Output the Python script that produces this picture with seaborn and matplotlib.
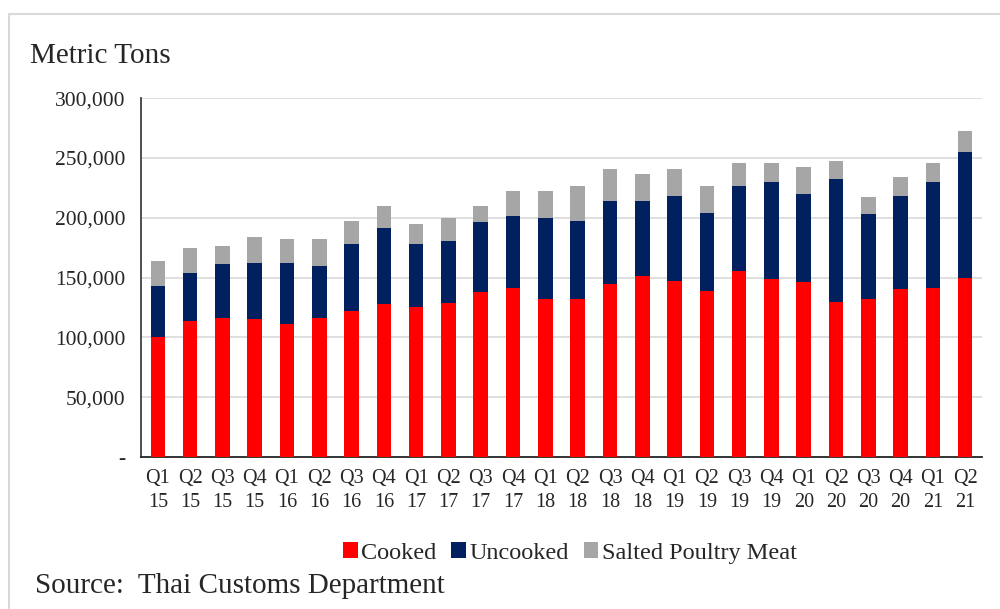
import matplotlib
matplotlib.use("Agg")
import matplotlib.pyplot as plt
from matplotlib.patches import Patch
from matplotlib.lines import Line2D
import pandas as pd
import seaborn as sns

quarters = [
    "Q1\n15", "Q2\n15", "Q3\n15", "Q4\n15",
    "Q1\n16", "Q2\n16", "Q3\n16", "Q4\n16",
    "Q1\n17", "Q2\n17", "Q3\n17", "Q4\n17",
    "Q1\n18", "Q2\n18", "Q3\n18", "Q4\n18",
    "Q1\n19", "Q2\n19", "Q3\n19", "Q4\n19",
    "Q1\n20", "Q2\n20", "Q3\n20", "Q4\n20",
    "Q1\n21", "Q2\n21",
]

cooked = [100000, 114000, 116500, 115000, 111000, 116500, 122000, 128000,
          125000, 129000, 137500, 141500, 132000, 132000, 144500, 151500,
          147000, 139000, 155500, 148500, 146000, 129500, 132000, 140000,
          141500, 150000]
uncooked = [43000, 40000, 44500, 47500, 51500, 43500, 56000, 63000,
            53000, 51500, 58500, 60000, 68000, 65500, 69500, 62500,
            71000, 65000, 71000, 81000, 73500, 102500, 71000, 78500,
            88000, 104500]
salted = [21000, 21000, 15500, 21000, 19500, 22000, 19500, 19000,
          16500, 19500, 14000, 21000, 22500, 29000, 26500, 22500,
          22500, 22500, 19500, 16500, 22500, 15500, 14000, 15500,
          16500, 18000]

series_names = ["Cooked", "Uncooked", "Salted Poultry Meat"]
series_colors = ["#FF0000", "#002060", "#A6A6A6"]

df = pd.DataFrame({
    "quarter": quarters,
    "cooked": cooked,
    "uncooked": uncooked,
    "salted": salted,
})
df["top_uncooked"] = df["cooked"] + df["uncooked"]
df["top_salted"] = df["top_uncooked"] + df["salted"]

sns.set_theme(style="white")
plt.rcParams["font.family"] = ["Liberation Serif", "DejaVu Serif"]

fig = plt.figure(figsize=(10, 6.09), dpi=100)
ax = fig.add_axes([0.141, 0.2496, 0.841, 0.5894])

# stacked bars: draw totals first, then overlay lower segments
for col, color in zip(["top_salted", "top_uncooked", "cooked"],
                      [series_colors[2], series_colors[1], series_colors[0]]):
    sns.barplot(data=df, x="quarter", y=col, color=color, saturation=1,
                width=0.45, errorbar=None, ax=ax, zorder=3,
                edgecolor="none", linewidth=0)

ax.set_xlim(-0.52, len(quarters) - 0.48)
ax.set_ylim(0, 300000)
ax.set_yticks(range(0, 300001, 50000))
ax.set_yticklabels(["-" if v == 0 else f"{v:,}" for v in range(0, 300001, 50000)])
ax.set_xlabel("")
ax.set_ylabel("")

ax.yaxis.grid(True, color="#D9D9D9", linewidth=1.2, zorder=0)
ax.set_axisbelow(True)
for side in ["top", "right"]:
    ax.spines[side].set_visible(False)
ax.spines["left"].set_color("#404040")
ax.spines["left"].set_linewidth(1.3)
ax.spines["bottom"].set_color("#262626")
ax.spines["bottom"].set_linewidth(1.3)

ax.tick_params(axis="y", length=0, pad=11, labelsize=15.5, labelcolor="#262626")
ax.tick_params(axis="x", length=0, pad=9, labelsize=14.5, labelcolor="#262626")
for lbl in ax.get_xticklabels():
    lbl.set_linespacing(1.3)

fig.text(0.03, 0.908, "Metric Tons", fontsize=21, color="#262626", va="center")
fig.text(0.035, 0.037, "Source:  Thai Customs Department", fontsize=21,
         color="#262626", va="center")

handles = [Patch(facecolor=c, edgecolor="none") for c in series_colors]
fig.legend(handles, series_names, loc="center", bbox_to_anchor=(0.57, 0.092),
           ncol=3, frameon=False, fontsize=17.5, handlelength=0.6,
           handleheight=0.6, handletextpad=0.15, columnspacing=0.6,
           labelcolor="#262626")

# light frame lines along the top and left edge
fig.add_artist(Line2D([0.009, 1.0], [0.977, 0.977], color="#D9D9D9",
                      linewidth=1.5, transform=fig.transFigure))
fig.add_artist(Line2D([0.009, 0.009], [0.0, 0.977], color="#D9D9D9",
                      linewidth=1.5, transform=fig.transFigure))

fig.savefig("out.png", dpi=100)
